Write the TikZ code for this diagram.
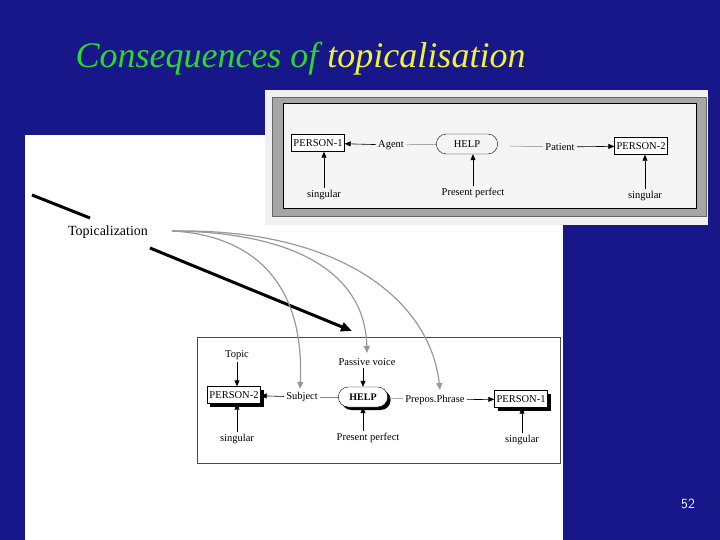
\documentclass[tikz,border=0pt]{standalone}
\usepackage{fontspec}
\setmainfont{Liberation Serif}
\usetikzlibrary{arrows.meta,shapes.misc,shadows}
\definecolor{slidebg}{HTML}{17178A}
\definecolor{ttlgreen}{HTML}{2BD82B}
\definecolor{ttlyellow}{HTML}{F2F23A}
\tikzset{
  lbl/.style={font=\fontsize{10.5}{12}\selectfont, inner sep=2pt},
  pbox/.style={draw, font=\fontsize{10.5}{12}\selectfont, minimum height=17pt, inner sep=2pt, fill=white},
  sbox/.style={pbox, drop shadow={shadow xshift=3pt, shadow yshift=-3pt, fill=black, opacity=1}},
  helpbox/.style={draw, rounded rectangle, font=\fontsize{10.5}{12}\selectfont, minimum width=64pt, minimum height=20pt, fill=white},
  ar/.style={-{Triangle[length=6pt,width=5pt]}, line width=0.6pt},
  gar/.style={-{Triangle[length=7pt,width=6pt]}, draw=gray!80, line width=1.2pt},
  pl/.style={draw=gray, line width=0.5pt}
}
\begin{document}
\begin{tikzpicture}[x=1pt,y=-1pt]
\fill[slidebg] (0,0) rectangle (720,540);
\useasboundingbox (0,0) rectangle (720,540);
\fill[white] (25,135) rectangle (563,540);
% title
\node[anchor=west, font=\itshape\fontsize{36}{40}\selectfont] (title) at (72,59) {\textcolor{ttlgreen}{Consequences of} \textcolor{ttlyellow}{topicalisation}};
% top box
\fill[gray!12] (265,90) rectangle (708,225);
\fill[gray!70, draw=black!60] (272,97) rectangle (706,216);
\fill[gray!8, draw=black, line width=0.8pt] (283,103) rectangle (696,208);
\node[pbox] (p1) at (318,143) {PERSON-1};
\node[lbl] (agent) at (391,145) {Agent};
\node[helpbox, fill=gray!8, minimum width=68pt] (help) at (467,144) {HELP};
\node[lbl] (patient) at (560,147) {Patient};
\node[pbox] (p2) at (641,146) {PERSON-2};
\node[lbl] (s1) at (324,195) {singular};
\node[lbl] (pp) at (473,193) {Present perfect};
\node[lbl] (s2) at (645,196) {singular};
\draw[ar] (agent) -- (p1);
\draw[pl] (help) -- (agent);
\draw[pl] (help.east)++(12,2) -- (patient);
\draw[ar] (patient) -- (p2);
\draw[ar] (s1.north) -- (s1.north |- p1.south);
\draw[ar] (pp.north) -- (pp.north |- help.south);
\draw[ar] (s2.north) -- (s2.north |- p2.south);
% bottom box
\draw[black!70, line width=0.6pt] (197,337) rectangle (560,463);
\node[lbl] (topic) at (237,355) {Topic};
\node[sbox] (bp2) at (234,395) {PERSON-2};
\node[lbl] (subj) at (302,397) {Subject};
\node[helpbox, minimum width=56pt, drop shadow={shadow xshift=3pt, shadow yshift=-3pt, fill=black, opacity=1}, font=\bfseries\fontsize{10}{12}\selectfont] (bhelp) at (363,397) {HELP};
\node[lbl] (pv) at (367,362) {Passive voice};
\node[lbl] (prep) at (435,400) {Prepos.Phrase};
\node[sbox] (bp1) at (521,399) {PERSON-1};
\node[lbl] (bs1) at (237,439) {singular};
\node[lbl] (bpp) at (368,438) {Present perfect};
\node[lbl] (bs2) at (522,440) {singular};
\draw[ar] (topic.south) -- (topic.south |- bp2.north);
\draw[ar] (subj) -- (bp2);
\draw[pl] (bhelp) -- (subj);
\draw[pl] (bhelp) -- (prep);
\draw[ar] (prep) -- (bp1);
\draw[ar] (pv.south -| bhelp) -- (bhelp.north);
\draw[ar] (bs1.north) -- (bs1.north |- bp2.south);
\draw[ar] (bpp.north -| bhelp) -- (bhelp.south);
\draw[ar] (bs2.north) -- (bs2.north |- bp1.south);
% topicalization
\node[font=\fontsize{14}{16}\selectfont] (topz) at (108,232) {Topicalization};
\coordinate (l1a) at (32,195);
\coordinate (l1b) at (90,218);
\draw[line width=3pt] (l1a) -- (l1b);
\coordinate (l2a) at (150,248);
\coordinate (l2b) at (352,331);
\draw[-{Triangle[length=11pt,width=9pt]}, line width=3pt] (l2a) -- (l2b);
\coordinate (g0) at (172,231);
\coordinate (g1) at (300,389);
\coordinate (g2) at (367,353);
\coordinate (g3) at (440,390);
\draw[gar] (g0) .. controls (250,235) and (305,280) .. (g1);
\draw[gar] (g0) .. controls (290,232) and (365,270) .. (g2);
\draw[gar] (g0) .. controls (340,228) and (430,300) .. (g3);
\node[text=white, font=\sffamily\fontsize{14}{16}\selectfont] (num) at (688,504) {52};
\end{tikzpicture}
\end{document}
